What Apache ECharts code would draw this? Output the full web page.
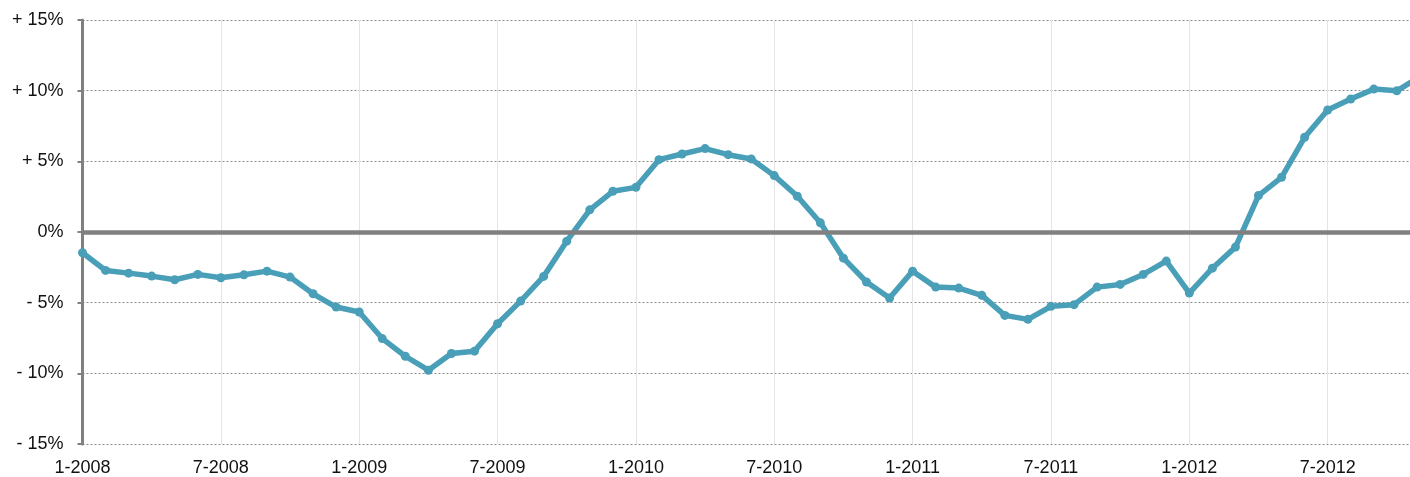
<!DOCTYPE html>
<html>
<head>
<meta charset="utf-8">
<script src="https://cdn.jsdelivr.net/npm/echarts@6/dist/echarts.min.js"></script>
<style>
  html, body { margin: 0; padding: 0; background: #fff; }
  #myChart { width: 1410px; height: 477px; }
</style>
</head>
<body>
<div id="myChart"></div>
<script>
// monthly change in %, Jan 2008 .. Nov 2012
var values = [
  -1.47, -2.72, -2.91, -3.12, -3.38, -3.0, -3.24, -3.03, -2.77, -3.19, -4.37, -5.31,
  -5.66, -7.54, -8.79, -9.78, -8.6, -8.43, -6.49, -4.89, -3.14, -0.65, 1.57, 2.88,
  3.16, 5.12, 5.52, 5.9, 5.47, 5.17, 3.99, 2.53, 0.65, -1.85, -3.54, -4.67,
  -2.77, -3.9, -3.97, -4.48, -5.9, -6.18, -5.26, -5.14, -3.9, -3.71, -3.0, -2.06,
  -4.32, -2.56, -1.07, 2.58, 3.87, 6.7, 8.63, 9.41, 10.11, 9.99, 11.0
];
var xTickLabels = ["1-2008", "7-2008", "1-2009", "7-2009", "1-2010", "7-2010",
                   "1-2011", "7-2011", "1-2012", "7-2012"];
var yTickLabels = { "15": "+ 15%", "10": "+ 10%", "5": "+ 5%", "0": "0%",
                    "-5": "- 5%", "-10": "- 10%", "-15": "- 15%" };

var points = values.map(function (v, i) { return [i, v]; });

var chart = echarts.init(document.getElementById("myChart"));
chart.setOption({
  animation: false,
  textStyle: { fontFamily: "Liberation Sans, Arial, sans-serif" },
  grid: { left: 82.5, right: 0, top: 20, bottom: 33 },
  xAxis: {
    type: "value",
    min: 0,
    max: 57.57,
    interval: 6,
    axisLine: { show: false },
    axisTick: { show: false },
    axisLabel: {
      color: "#111",
      fontSize: 18,
      margin: 15,
      showMaxLabel: false,
      formatter: function (v) {
        if (v % 6 !== 0) return "";
        return xTickLabels[v / 6] || "";
      }
    },
    splitLine: { show: true, lineStyle: { color: "#e4e4e4", width: 1 } }
  },
  yAxis: {
    type: "value",
    min: -15,
    max: 15,
    interval: 5,
    axisLine: { show: true, lineStyle: { color: "#808080", width: 3 } },
    axisTick: { show: true, length: 5, lineStyle: { color: "#808080", width: 2 } },
    axisLabel: {
      color: "#111",
      fontSize: 18,
      margin: 19,
      formatter: function (v) { return yTickLabels[String(v)]; }
    },
    splitLine: { show: true, lineStyle: { color: "#8a8a8a", width: 1, type: [2, 2] } }
  },
  series: [
    {
      // zero line, kept under the data line
      type: "line",
      data: [],
      z: 1,
      silent: true,
      markLine: {
        silent: true,
        symbol: "none",
        label: { show: false },
        lineStyle: { color: "#808080", width: 4.5, type: "solid" },
        data: [{ yAxis: 0 }]
      }
    },
    {
      type: "line",
      z: 3,
      data: points,
      symbol: "circle",
      symbolSize: 9,
      lineStyle: { color: "#4a9fb8", width: 5.5 },
      itemStyle: { color: "#4a9fb8" }
    }
  ]
});
</script>
</body>
</html>
